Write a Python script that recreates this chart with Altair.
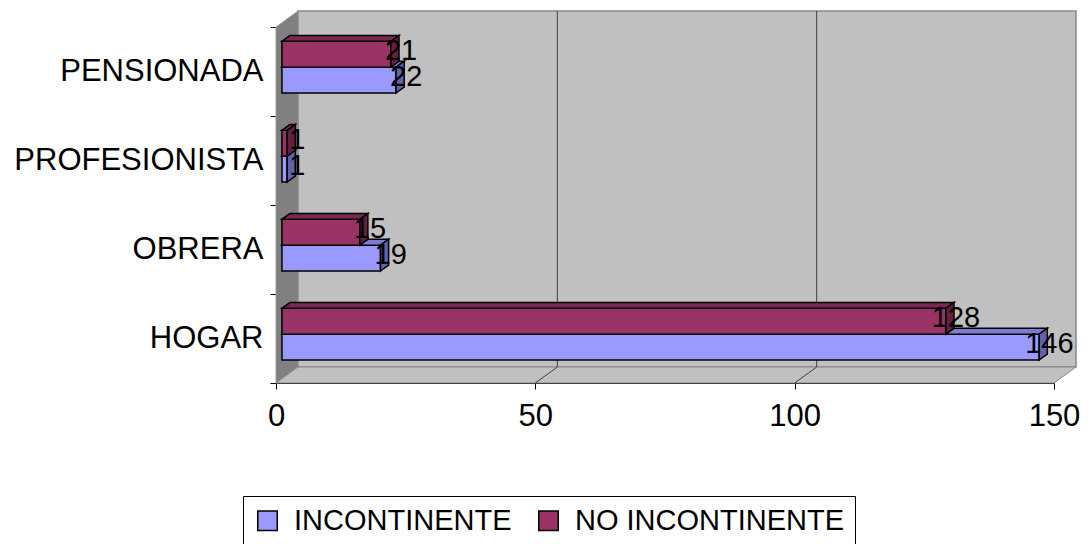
import altair as alt
import pandas as pd

# Occupation categories, listed from the bottom of the chart to the top
CATEGORIES = ["HOGAR", "OBRERA", "PROFESIONISTA", "PENSIONADA"]
SERIES = ["INCONTINENTE", "NO INCONTINENTE"]
INCONTINENTE = [146, 19, 1, 22]
NO_INCONTINENTE = [128, 15, 1, 21]
X_TICKS = [0, 50, 100, 150]

FRONT_COLORS = ["#9999FF", "#993366"]
TOP_COLORS = ["#7C7CD0", "#7A2952"]
SIDE_COLORS = ["#6262A8", "#63213F"]

FONT = "Liberation Sans"
WIDTH, HEIGHT = 778, 356
X_MAX = 150
N = len(CATEGORIES)
PX_X = WIDTH / X_MAX
PX_Y = HEIGHT / N

# 3-D box depth (pixels) expressed in data units
BOX_DX = 22 / PX_X
BOX_DY = 16 / PX_Y
BAR_FRONT = 0.27   # fraction of the box depth where bar front faces sit
BAR_BACK = 0.64    # fraction where bar back faces sit
BAR_H = 0.29       # bar thickness in category units

xs = alt.Scale(domain=[0, X_MAX], nice=False, zero=False)
ys = alt.Scale(domain=[0, N], nice=False, zero=False)

x_axis = alt.Axis(
    values=X_TICKS, title=None, grid=False, labelFlush=False, labelLimit=0,
    labelFont=FONT, labelFontSize=31, labelColor="black", labelPadding=12,
    domainColor="black", domainWidth=1, tickColor="black", tickSize=6,
)
label_lookup = "[''," + ",".join(f"'{c}'" for c in CATEGORIES) + "][datum.value]"
y_axis = alt.Axis(
    values=list(range(N + 1)), title=None, grid=False, labelFlush=False,
    labelExpr=label_lookup, labelOffset=PX_Y / 2, labelOverlap=False, labelLimit=0,
    labelFont=FONT, labelFontSize=31, labelColor="black", labelPadding=7,
    domainColor="black", domainWidth=1, tickColor="black", tickSize=6,
)


def X(field):
    return alt.X(field, type="quantitative", scale=xs, axis=x_axis, stack=False)


def Y(field):
    return alt.Y(field, type="quantitative", scale=ys, axis=y_axis, stack=False)


# ---- walls, floor and gridlines -------------------------------------------
side_wall = pd.DataFrame({"x": [0, BOX_DX], "y": [0, BOX_DY], "y2": [N, N + BOX_DY]})
floor = pd.DataFrame({"y": [0, BOX_DY], "x": [0, BOX_DX], "x2": [X_MAX, X_MAX + BOX_DX]})
back_wall = pd.DataFrame({"x": [BOX_DX], "x2": [X_MAX + BOX_DX], "y": [BOX_DY], "y2": [N + BOX_DY]})
inner_ticks = [t for t in X_TICKS if 0 < t < X_MAX]
floor_grid = pd.DataFrame({
    "tick": [t for t in inner_ticks for _ in (0, 1)],
    "x": [t + d * BOX_DX for t in inner_ticks for d in (0, 1)],
    "y": [d * BOX_DY for _ in inner_ticks for d in (0, 1)],
})
wall_grid = pd.DataFrame({"x": [t + BOX_DX for t in inner_ticks],
                          "y": BOX_DY, "y2": N + BOX_DY})

layers = [
    alt.Chart(side_wall).mark_area(orient="vertical", color="#808080",
                                   stroke="#9a9a9a", strokeWidth=1)
    .encode(x=X("x"), y=Y("y"), y2="y2"),
    alt.Chart(back_wall).mark_rect(color="#C0C0C0", stroke="#888888", strokeWidth=1.5)
    .encode(x=X("x"), x2="x2", y=Y("y"), y2="y2"),
    alt.Chart(floor).mark_area(orient="horizontal", color="#C0C0C0",
                               stroke="#888888", strokeWidth=1)
    .encode(y=Y("y"), x=X("x"), x2="x2"),
    alt.Chart(wall_grid).mark_rule(color="#404040", strokeWidth=1)
    .encode(x=X("x"), y=Y("y"), y2="y2"),
    alt.Chart(floor_grid).mark_line(color="#404040", strokeWidth=1)
    .encode(x=X("x"), y=Y("y"), detail="tick:N"),
]

# ---- 3-D bars -------------------------------------------------------------
fx0 = BAR_FRONT * BOX_DX
fdy = BAR_FRONT * BOX_DY
bdx = (BAR_BACK - BAR_FRONT) * BOX_DX
bdy = (BAR_BACK - BAR_FRONT) * BOX_DY

labels = []
for s, (name, values) in enumerate(zip(SERIES, [INCONTINENTE, NO_INCONTINENTE])):
    fronts, tops, sides = [], [], []
    for i, (cat, v) in enumerate(zip(CATEGORIES, values)):
        c = i + 0.5
        y0, y1 = (c - BAR_H, c) if s == 0 else (c, c + BAR_H)
        fy0, fy1 = y0 + fdy, y1 + fdy
        fx1 = v + fx0
        fronts.append({"serie": name, "cat": cat, "value": v,
                       "x": fx0, "x2": fx1, "y": fy0, "y2": fy1})
        tops += [{"cat": cat, "y": fy1, "x": fx0, "x2": fx1},
                 {"cat": cat, "y": fy1 + bdy, "x": fx0 + bdx, "x2": fx1 + bdx}]
        sides += [{"cat": cat, "x": fx1, "y": fy0, "y2": fy1},
                  {"cat": cat, "x": fx1 + bdx, "y": fy0 + bdy, "y2": fy1 + bdy}]
        labels.append({"value": v, "x": fx1 + bdx, "y": (fy0 + fy1) / 2})

    layers += [
        alt.Chart(pd.DataFrame(fronts)).mark_rect(stroke="black", strokeWidth=1.5)
        .encode(
            x=X("x"), x2="x2", y=Y("y"), y2="y2",
            color=alt.Color(
                "serie:N",
                scale=alt.Scale(domain=SERIES, range=FRONT_COLORS),
                legend=alt.Legend(
                    orient="none", legendX=-33, legendY=469, direction="horizontal",
                    title=None, symbolType="square", symbolSize=380,
                    symbolStrokeColor="black", symbolStrokeWidth=1.5,
                    labelFont=FONT, labelFontSize=29, labelColor="black", labelLimit=0,
                    labelOffset=12, columnPadding=22, padding=10,
                    strokeColor="black", fillColor="white",
                ),
            ),
        ),
        alt.Chart(pd.DataFrame(tops)).mark_area(orient="horizontal", color=TOP_COLORS[s],
                                                 stroke="black", strokeWidth=1.5)
        .encode(y=Y("y"), x=X("x"), x2="x2", detail="cat:N"),
        alt.Chart(pd.DataFrame(sides)).mark_area(orient="vertical", color=SIDE_COLORS[s],
                                                  stroke="black", strokeWidth=1.5)
        .encode(x=X("x"), y=Y("y"), y2="y2", detail="cat:N"),
    ]

layers.append(
    alt.Chart(pd.DataFrame(labels)).mark_text(
        font=FONT, fontSize=29, color="black", align="center", baseline="middle",
        dx=2, dy=-3
    ).encode(x=X("x"), y=Y("y"), text="value:Q")
)

chart = (
    alt.layer(*layers)
    .properties(
        width=WIDTH, height=HEIGHT,
        autosize=alt.AutoSizeParams(type="none"),
        padding={"left": 276, "top": 27, "right": 1091 - 276 - WIDTH,
                 "bottom": 544 - 27 - HEIGHT},
        background="white",
    )
    .configure_view(strokeWidth=0)
)

chart.save("out.html", embed_options={"renderer": "svg", "actions": False})
